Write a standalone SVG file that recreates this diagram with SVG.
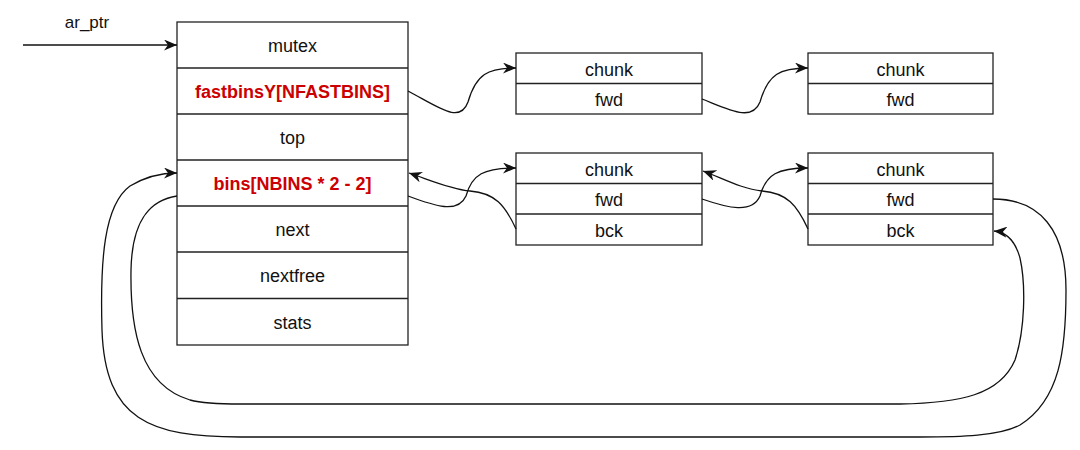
<svg xmlns="http://www.w3.org/2000/svg" width="1080" height="450" viewBox="0 0 1080 450">
<style>
.box{fill:#fff;stroke:#222;stroke-width:1.3}
.sep{stroke:#222;stroke-width:1.3}
.t{font-family:"Liberation Sans",Arial,Helvetica,sans-serif;font-size:18px;fill:#111;text-anchor:middle}
.r{fill:#cc0000;font-weight:bold}
.e{fill:none;stroke:#111;stroke-width:1.3}
</style>
<defs>
<marker id="arr" markerUnits="userSpaceOnUse" markerWidth="13" markerHeight="11" refX="13" refY="5.5" orient="auto">
<path d="M0,0 L13,5.5 L0,11 L4,5.5 Z" fill="#111"/>
</marker>
</defs>
<rect width="1080" height="450" fill="#fff"/>
<g id="arena">
<rect class="box" x="177" y="22" width="231" height="323"/>
<line class="sep" x1="177" y1="68" x2="408" y2="68"/>
<line class="sep" x1="177" y1="114" x2="408" y2="114"/>
<line class="sep" x1="177" y1="160" x2="408" y2="160"/>
<line class="sep" x1="177" y1="206" x2="408" y2="206"/>
<line class="sep" x1="177" y1="252" x2="408" y2="252"/>
<line class="sep" x1="177" y1="298.5" x2="408" y2="298.5"/>
<text class="t" x="292.5" y="52">mutex</text>
<text class="t r" x="292.5" y="98">fastbinsY[NFASTBINS]</text>
<text class="t" x="292.5" y="144">top</text>
<text class="t r" x="292.5" y="190">bins[NBINS * 2 - 2]</text>
<text class="t" x="292.5" y="236">next</text>
<text class="t" x="292.5" y="282">nextfree</text>
<text class="t" x="292.5" y="328.5">stats</text>
</g>
<g id="ar_ptr">
<text class="t" x="87" y="28" style="font-size:17px">ar_ptr</text>
</g>
<g id="fast-chunk-1">
<rect class="box" x="516" y="53" width="186" height="61"/>
<line class="sep" x1="516" y1="83.5" x2="702" y2="83.5"/>
<text class="t" x="609" y="75.5">chunk</text>
<text class="t" x="609" y="106">fwd</text>
</g>
<g id="fast-chunk-2">
<rect class="box" x="808" y="53" width="185" height="61"/>
<line class="sep" x1="808" y1="83.5" x2="993" y2="83.5"/>
<text class="t" x="900.5" y="75.5">chunk</text>
<text class="t" x="900.5" y="106">fwd</text>
</g>
<g id="bin-chunk-1">
<rect class="box" x="516" y="153" width="186" height="92"/>
<line class="sep" x1="516" y1="183.5" x2="702" y2="183.5"/>
<line class="sep" x1="516" y1="214" x2="702" y2="214"/>
<text class="t" x="609" y="175.5">chunk</text>
<text class="t" x="609" y="206">fwd</text>
<text class="t" x="609" y="236.5">bck</text>
</g>
<g id="bin-chunk-2">
<rect class="box" x="808" y="153" width="185" height="92"/>
<line class="sep" x1="808" y1="183.5" x2="993" y2="183.5"/>
<line class="sep" x1="808" y1="214" x2="993" y2="214"/>
<text class="t" x="900.5" y="175.5">chunk</text>
<text class="t" x="900.5" y="206">fwd</text>
<text class="t" x="900.5" y="236.5">bck</text>
</g>
<g id="connectors">
<path class="e" d="M23,45 L177,45" marker-end="url(#arr)"/>
<path class="e" d="M408,91 C440,108 460,124 468,102 C476,74 488,68 516,68" marker-end="url(#arr)"/>
<path class="e" d="M702,99 C730,110 752,122 760,102 C768,74 780,68 808,68" marker-end="url(#arr)"/>
<path class="e" d="M408,196 C435,206 458,214 466,196 C472,174 484,168 516,168" marker-end="url(#arr)"/>
<path class="e" d="M516,229 C505,205 495,193 470,191 C450,189 430,180 409,173" marker-end="url(#arr)"/>
<path class="e" d="M702,199 C728,208 752,214 760,196 C766,174 778,168 808,168" marker-end="url(#arr)"/>
<path class="e" d="M808,229 C797,205 787,193 762,191 C742,189 722,178 703,171" marker-end="url(#arr)"/>
<path class="e" d="M993,199 C1040,199 1066,230 1066,290 C1066,350 1060,400 1020,425 C1000,436 960,437 920,437 L240,437 C150,437 105,420 102,330 C100,260 104,205 130,186 C145,177 160,173 177,173" marker-end="url(#arr)"/>
<path class="e" d="M177,196 C150,200 132,220 131,270 C130,330 140,385 190,400 C205,404 225,404 240,404 L900,404 C960,403 1000,395 1015,360 C1025,330 1026,285 1020,258 C1015,240 1005,232 994,231" marker-end="url(#arr)"/>
</g>
</svg>
